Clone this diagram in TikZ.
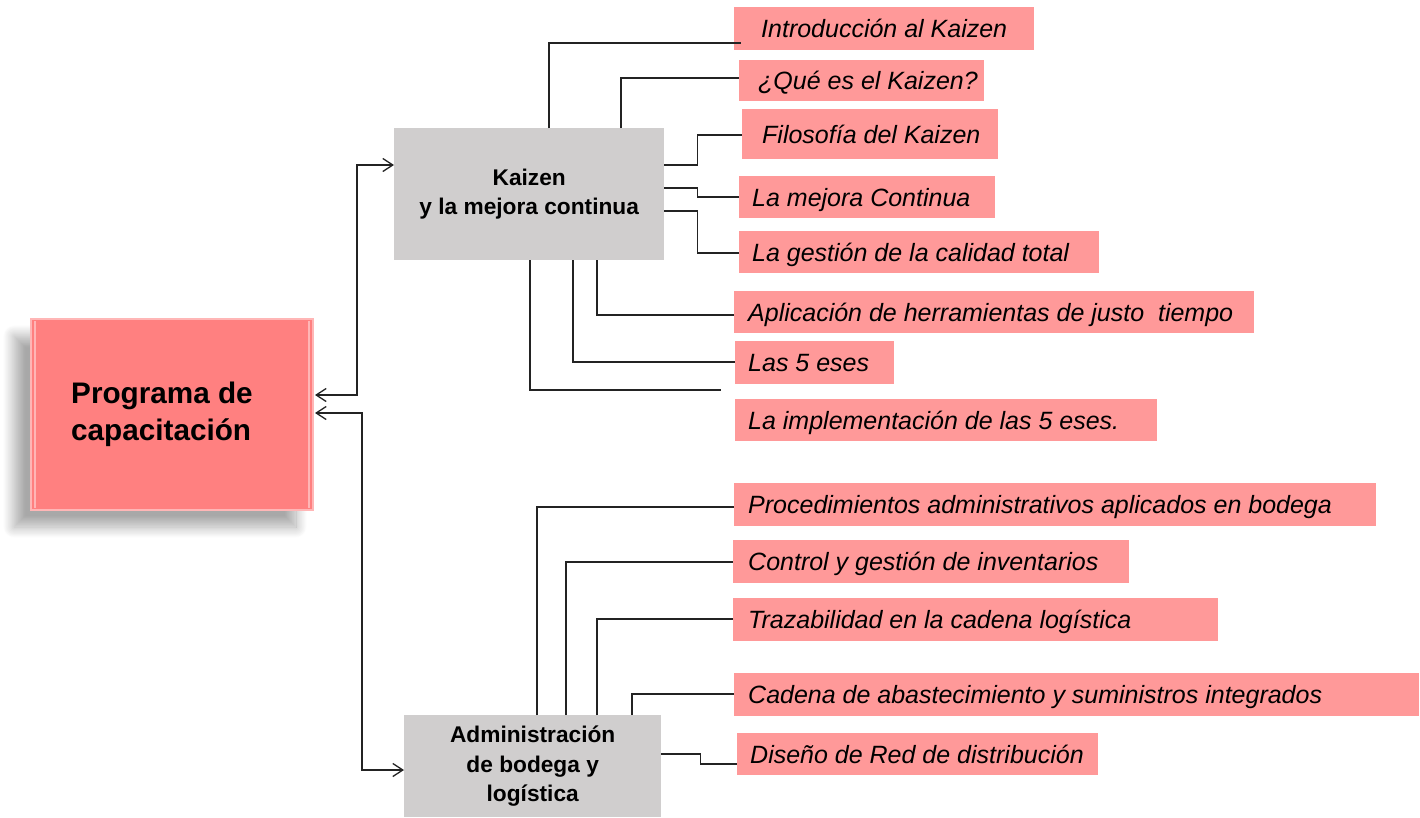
\documentclass[tikz,border=0pt]{standalone}
\usepackage{fontspec}
\setmainfont{Liberation Sans}
\usetikzlibrary{arrows.meta,calc,shadows.blur}
\definecolor{mainred}{RGB}{255,128,128}
\definecolor{bevel}{RGB}{255,182,182}
\definecolor{itempink}{RGB}{255,153,153}
\definecolor{headgray}{RGB}{208,206,206}
\definecolor{linec}{RGB}{35,35,35}
\tikzset{
  itembox/.style={fill=itempink, draw=none, inner sep=0pt, anchor=north west,
    font=\fontsize{25}{29}\selectfont\itshape, text height=22pt, text depth=4pt},
  headbox/.style={fill=headgray, draw=none, inner sep=0pt, anchor=north west, align=center,
    font=\fontsize{22.7}{29.7}\selectfont\bfseries},
  mainbox/.style={fill=mainred, draw=bevel, line width=2pt, inner sep=0pt, anchor=north west,
    font=\fontsize{29.7}{37}\selectfont\bfseries,
    blur shadow={shadow xshift=-17pt, shadow yshift=-17pt, shadow blur radius=11pt,
      shadow blur steps=16, shadow opacity=34}},
  conn/.style={draw=linec, line width=1.3pt},
  biarrow/.style={conn, {Straight Barb[length=10pt,width=13pt]}-{Straight Barb[length=10pt,width=13pt]}},
  bevelline/.style={draw=bevel, line width=2pt}
}
\newcommand{\itemnode}[7]{\node[itembox, minimum width=#4pt, minimum height=#5pt] (#1) at (#2,#3) {\makebox[#4pt][l]{\hspace{#6pt}#7}};}
\begin{document}
\begin{tikzpicture}[x=1pt,y=-1pt]
\useasboundingbox (0,0) rectangle (1420,817);

% main box
\node[mainbox, minimum width=282pt, minimum height=191pt] (pm) at (30,318)
  {\hspace*{-20pt}\raisebox{-4pt}{\begin{tabular}{@{}l@{}}Programa de\\capacitación\end{tabular}}};
\draw[bevelline] ($(pm.north west)+(5,3)$) -- ($(pm.south west)+(5,-3)$);
\draw[bevelline] ($(pm.north east)+(-5,3)$) -- ($(pm.south east)+(-5,-3)$);

% header boxes
\node[headbox, minimum width=270pt, minimum height=132pt] (kz) at (394,128)
  {Kaizen\\y la mejora continua};
\node[headbox, minimum width=257pt, minimum height=102pt] (ad) at (404,715)
  {Administración\\de bodega y\\logística};

% items Kaizen
\itemnode{i1}{734}{7}{300}{43}{27}{Introducción al Kaizen}
\itemnode{i2}{739}{60}{245}{41}{19}{¿Qué es el Kaizen?}
\itemnode{i3}{742}{109}{256}{50}{20}{Filosofía del Kaizen}
\itemnode{i4}{739}{176}{256}{42}{13}{La mejora Continua}
\itemnode{i5}{739}{231}{360}{42}{13}{La gestión de la calidad total}
\itemnode{i6}{734}{291}{520}{42}{14}{Aplicación de herramientas de justo\ \ tiempo}
\itemnode{i7}{735}{341}{159}{43}{13}{Las 5 eses}
\itemnode{i8}{735}{399}{422}{42}{13}{La implementación de las 5 eses.}

% items bodega
\itemnode{i9}{734}{483}{642}{43}{14}{Procedimientos administrativos aplicados en bodega}
\itemnode{i10}{733}{540}{396}{43}{15}{Control y gestión de inventarios}
\itemnode{i11}{733}{598}{485}{43}{15}{Trazabilidad en la cadena logística}
\itemnode{i12}{734}{673}{685}{43}{14}{Cadena de abastecimiento y suministros integrados}
\itemnode{i13}{737}{733}{361}{42}{13}{Diseño de Red de distribución}

% arrows main <-> headers
\draw[biarrow] ($(pm.north east)+(1,77)$) -- ++(42,0) |- ($(kz.north west)+(0,37)$);
\draw[biarrow] ($(pm.north east)+(1,95)$) -- ++(47,0) |- ($(ad.north west)+(0,55)$);

% Kaizen connectors
\draw[conn] ($(kz.north west)+(155,0)$) |- ($(i1.north west)+(7,36)$);
\draw[conn] ($(kz.north west)+(227,0)$) |- ($(i2.north west)+(0,18)$);
\draw[conn] ($(kz.north east)+(0,37)$) -- ++(33,0) |- ($(i3.north west)+(0,26)$);
\draw[conn] ($(kz.north east)+(0,60)$) -- ++(33,0) |- ($(i4.north west)+(0,21)$);
\draw[conn] ($(kz.north east)+(0,83)$) -- ++(33,0) |- ($(i5.north west)+(0,22)$);
\draw[conn] ($(kz.south west)+(203,0)$) |- ($(i6.north west)+(0,24)$);
\draw[conn] ($(kz.south west)+(179,0)$) |- ($(i7.north west)+(0,21)$);
\draw[conn] ($(kz.south west)+(136,0)$) |- ($(i8.north west)+(-14,-9)$);

% bodega connectors
\draw[conn] ($(ad.north west)+(133,0)$) |- ($(i9.north west)+(0,24)$);
\draw[conn] ($(ad.north west)+(162,0)$) |- ($(i10.north west)+(0,22)$);
\draw[conn] ($(ad.north west)+(193,0)$) |- ($(i11.north west)+(0,21)$);
\draw[conn] ($(ad.north west)+(228,0)$) |- ($(i12.north west)+(0,21)$);
\draw[conn] ($(ad.north east)+(0,39)$) -- ++(39,0) |- ($(i13.north west)+(0,31)$);
\end{tikzpicture}
\end{document}
